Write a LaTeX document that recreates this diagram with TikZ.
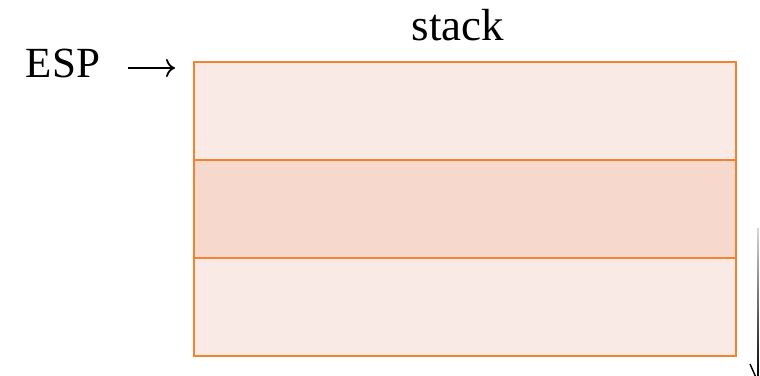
\documentclass[tikz,border=0pt]{standalone}
\usepackage{fontspec}
\setmainfont{Liberation Serif}
\usetikzlibrary{arrows.meta}
\definecolor{frameorange}{HTML}{F4822F}
\definecolor{lightcell}{HTML}{FAEAE6}
\definecolor{darkcell}{HTML}{F7D8CD}
\tikzset{
  cell/.style={draw=frameorange, line width=2.9pt, minimum width=542pt,
    minimum height=98pt, inner sep=0pt, outer sep=0pt},
  label/.style={inner sep=0pt, anchor=base, font=\fontsize{45}{50}\selectfont}
}
\begin{document}
\begin{tikzpicture}[x=1pt, y=-1pt]
  \clip (0,0) rectangle (760,375);
  \useasboundingbox (0,0) rectangle (760,375);
  % stack frames, top to bottom
  \node[cell, fill=lightcell] (r1) at (465,111) {};
  \node[cell, fill=darkcell]  (r2) at (465,209) {};
  \node[cell, fill=lightcell] (r3) at (465,307) {};
  % labels
  \node[label] (stk) at (458,40) {stack};
  \node[label, font=\fontsize{43}{48}\selectfont] (esp) at (63,77) {ESP};
  \coordinate (esptip) at ([xshift=-19pt, yshift=-6pt]r1.north west);
  \coordinate (espstart) at ([xshift=28pt]esp.east |- esptip);
  \draw[line width=1.8pt, -{To[length=9pt, width=18pt]}] (espstart) -- (esptip);
  % growth direction indicator on the right
  \coordinate (gtop) at (758,228);
  \coordinate (gbot) at (758,382);
  \shade[top color=black!15, bottom color=black] (757.2,228) rectangle (758.8,380);
  \draw[line width=1.4pt] (750,364) -- (gbot) -- (766,364);
\end{tikzpicture}
\end{document}
